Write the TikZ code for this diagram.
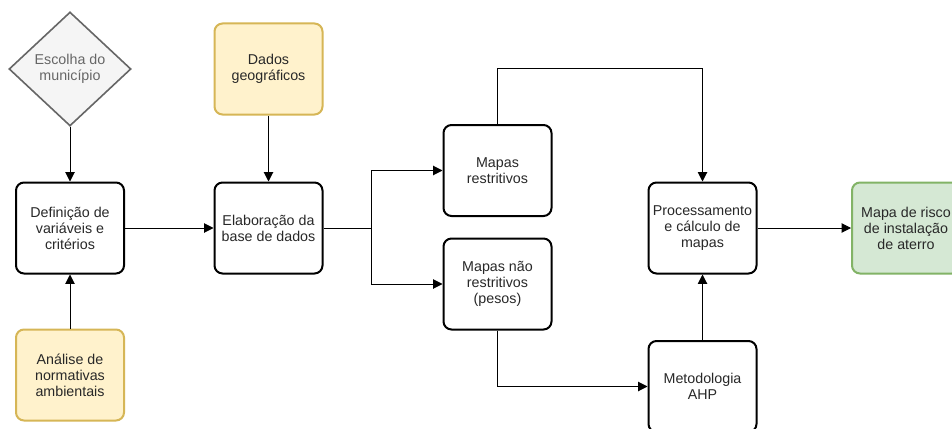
\documentclass[tikz,border=0pt]{standalone}
\usepackage{fontspec}
\setmainfont{Liberation Sans}
\usetikzlibrary{shapes.geometric, arrows.meta, positioning}
\definecolor{txtgray}{RGB}{40, 40, 40}
\definecolor{notefill}{RGB}{255, 242, 204}
\definecolor{notedraw}{RGB}{214, 182, 86}
\definecolor{outfill}{RGB}{213, 232, 212}
\definecolor{outdraw}{RGB}{130, 179, 102}
\definecolor{choicefill}{RGB}{245, 245, 245}
\definecolor{choicedraw}{RGB}{102, 102, 102}

\tikzset{
  procbox/.style={draw, line width=1.5pt, rounded corners=6pt, fill=white,
    minimum width=81pt, minimum height=68.25pt, inner sep=1pt, align=center,
    text=txtgray, font=\fontsize{10.7}{12}\selectfont},
  databox/.style={procbox, draw=notedraw, fill=notefill},
  resultbox/.style={procbox, draw=outdraw, fill=outfill},
  choicebox/.style={diamond, draw=choicedraw, fill=choicefill, line width=1.2pt,
    minimum width=91.5pt, minimum height=85.5pt, inner sep=0pt, align=center,
    text=choicedraw, font=\fontsize{10.7}{12}\selectfont},
  link/.style={line width=0.75pt, -{Triangle[length=7pt, width=7pt]}},
}

\begin{document}
\begin{tikzpicture}[x=0.75pt, y=-0.75pt]

  % 画布
  \fill[white] (0,0) rectangle (952,428);
  \clip (0,0) rectangle (952,428);

  % 输入
  \node[choicebox] (esc) at (70,69) {Escolha do\\município};
  \node[databox] (dados) at (268.5,69) {Dados\\geográficos};
  \node[databox] (ana) at (70,375) {Análise de\\normativas\\ambientais};

  % 处理步骤
  \node[procbox] (def) at (70,228) {Definição de\\variáveis e\\critérios};
  \node[procbox] (elab) at (268.5,228) {Elaboração da\\base de dados};
  \node[procbox] (restr) at (497.5,170.5) {Mapas\\restritivos};
  \node[procbox] (nao) at (497.5,284) {Mapas não\\restritivos\\(pesos)};
  \node[procbox] (proc) at (702.5,228) {Processamento\\e cálculo de\\mapas};
  \node[procbox] (ahp) at (702.5,386.5) {Metodologia\\AHP};

  % 输出
  \node[resultbox] (risk) at (906,228) {Mapa de risco\\de instalação\\de aterro};

  % 连线
  \draw[link] (esc.south) -- (def.north);
  \draw[link] (ana.north) -- (def.south);
  \draw[link] (def.east) -- (elab.west);
  \draw[link] (dados.south) -- (elab.north);

  \coordinate (split) at (371,228);
  \coordinate (topline) at (497.5,69);
  \draw[link] (elab.east) -- (split) |- (restr.west);
  \draw[link] (split) |- (nao.west);
  \draw[link] (restr.north) -- (topline) -| (proc.north);
  \draw[link] (nao.south) |- (ahp.west);
  \draw[link] (ahp.north) -- (proc.south);
  \draw[link] (proc.east) -- (risk.west);

\end{tikzpicture}
\end{document}
